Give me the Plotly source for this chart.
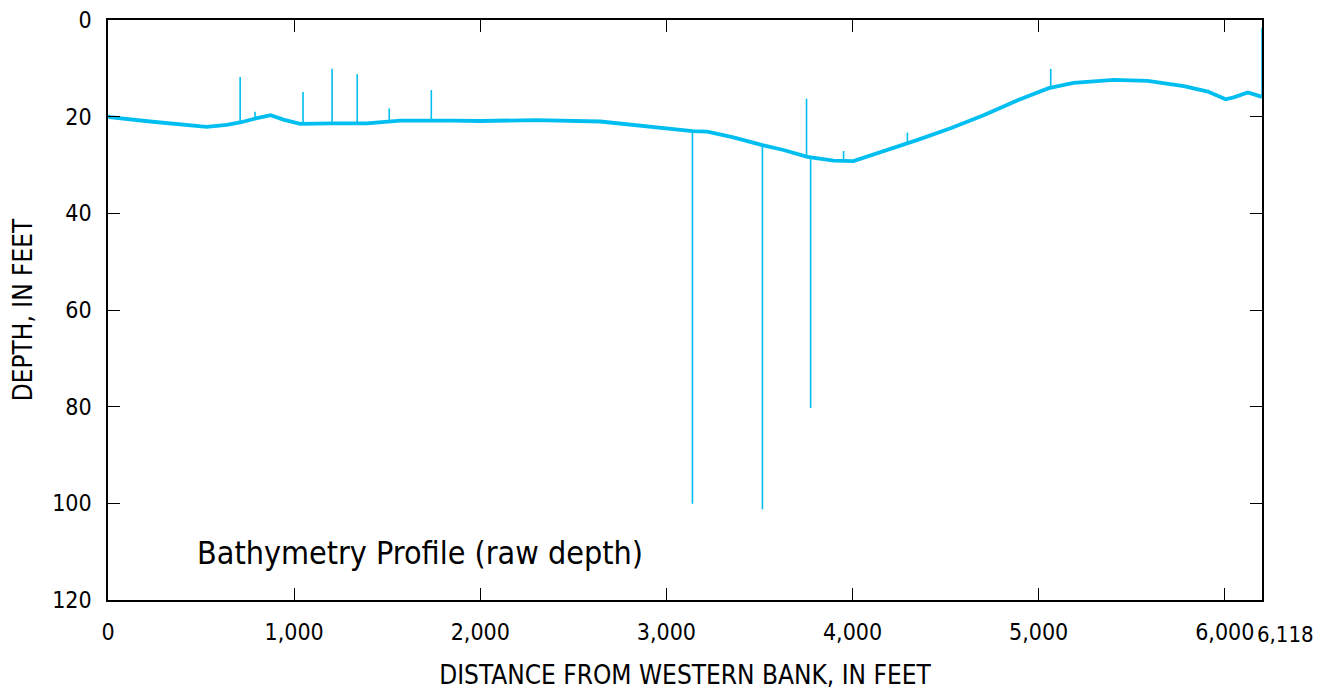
import plotly.graph_objects as go

# ---- data ----
# smoothed bed profile (distance ft, depth ft)
distance_ft = [0, 10, 226, 403, 530, 637, 710, 800, 874, 942, 1032, 1210, 1391,
               1570, 1747, 1839, 2000, 2300, 2645, 2823, 3005, 3140, 3220, 3360,
               3516, 3629, 3758, 3898, 4005, 4167, 4350, 4527, 4704, 4887, 5054,
               5188, 5403, 5586, 5780, 5909, 6005, 6048, 6124, 6200]
depth_ft = [19.8, 20.1, 21.0, 21.7, 22.1, 21.7, 21.2, 20.3, 19.7, 20.6, 21.5, 21.4, 21.4,
            20.8, 20.7, 20.8, 20.9, 20.7, 21.0, 21.7, 22.6, 23.0, 23.1, 24.3,
            25.9, 26.9, 28.3, 29.1, 29.2, 27.2, 24.8, 22.4, 19.7, 16.6, 14.1,
            13.0, 12.4, 12.6, 13.7, 14.8, 16.4, 16.0, 15.0, 15.9]

# raw-echo spikes: position, depth of the bed there, depth the spike reaches
spike_x = [710, 790, 1048, 1204, 1339, 1511, 1737, 3140, 3516, 3753, 3775, 3952, 4295, 5065, 6200]
spike_base = [21.2, 20.5, 21.5, 21.4, 21.4, 20.9, 20.7, 23.0, 25.9, 28.2, 28.4, 29.1, 25.4, 14.1, 15.9]
spike_tip = [11.8, 19.0, 14.9, 10.1, 11.2, 18.3, 14.5, 100.1, 101.2, 16.3, 80.3, 27.1, 23.3, 10.1, 1.7]

x_ticks = [0, 1000, 2000, 3000, 4000, 5000, 6000, 6200]
x_labels = ["0", "1,000", "2,000", "3,000", "4,000", "5,000", "6,000", ""]
end_label = "6,118"
y_ticks = [0, 20, 40, 60, 80, 100, 120]

FONT = "DejaVu Sans Condensed, Liberation Sans Narrow, Roboto, sans-serif"
BLUE = "#00bff0"


def font(size):
    return dict(family=FONT, size=size, color="black")


sx, sy = [], []
for x, b, t in zip(spike_x, spike_base, spike_tip):
    sx += [x, x, None]
    sy += [b, t, None]

fig = go.Figure()
fig.add_trace(go.Scatter(x=distance_ft, y=depth_ft, mode="lines",
                         line=dict(color=BLUE, width=3.8), showlegend=False))
fig.add_trace(go.Scatter(x=sx, y=sy, mode="lines",
                         line=dict(color=BLUE, width=1.6), showlegend=False))

axis_common = dict(
    showgrid=False, zeroline=False, showline=True, linecolor="black", linewidth=1.5,
    mirror="ticks", ticks="inside", ticklen=12, tickwidth=1.3, tickcolor="black",
    tickfont=font(23), automargin=False, tickangle=0,
)

fig.update_xaxes(range=[0, 6200], tickvals=x_ticks, ticktext=x_labels,
                 ticklabelstandoff=11,
                 title=dict(text="DISTANCE FROM WESTERN BANK, IN FEET",
                            font=font(26), standoff=30),
                 **axis_common)
fig.update_yaxes(range=[120, 0], tickvals=y_ticks, ticklabelstandoff=10,
                 title=dict(text="DEPTH, IN FEET", font=font(26), standoff=26),
                 **axis_common)

# end-of-section label sits just right of the last tick
fig.add_annotation(x=6200, y=120, xref="x", yref="y", text=end_label,
                   showarrow=False, xanchor="left", yanchor="middle", yshift=-34,
                   xshift=-6, borderpad=0, font=font(22))

fig.add_annotation(x=468, y=110.3, xref="x", yref="y", text="Bathymetry Profile (raw depth)",
                   showarrow=False, xanchor="left", yanchor="middle", font=font(32))

# page adds an 8px body margin on every side, so keep the figure inside the window
fig.update_layout(width=1310, height=682, plot_bgcolor="white", paper_bgcolor="white",
                  margin=dict(l=100, r=56, t=12, b=90))

fig.write_html("out.html")
